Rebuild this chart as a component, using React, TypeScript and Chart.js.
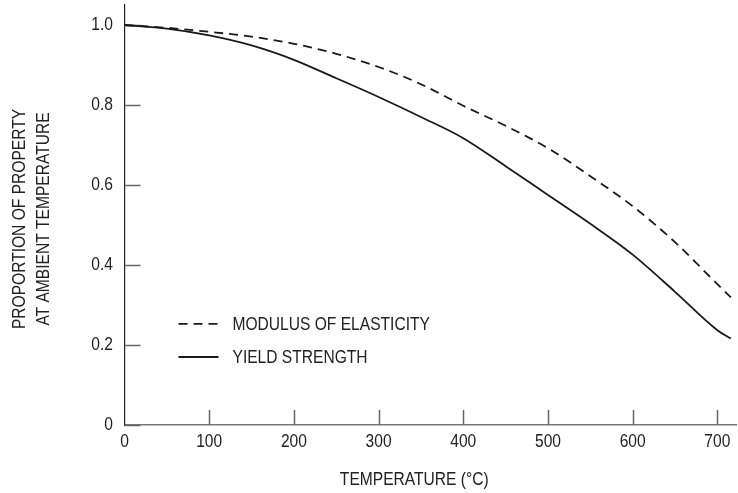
import { useEffect, useRef } from 'react';
import { Chart, registerables } from 'chart.js';

Chart.register(...registerables);

const temperatures = [0, 50, 100, 150, 200, 250, 300, 350, 400, 450, 500, 550, 600, 650, 700, 716];
const modulus = [1.0, 0.993, 0.983, 0.971, 0.953, 0.928, 0.895, 0.852, 0.798, 0.748, 0.692, 0.622, 0.547, 0.457, 0.352, 0.319];
const yieldStrength = [1.0, 0.991, 0.974, 0.949, 0.913, 0.867, 0.82, 0.77, 0.717, 0.647, 0.575, 0.503, 0.426, 0.333, 0.237, 0.216];
const xTicks = [0, 100, 200, 300, 400, 500, 600, 700];
const yTicks = [0, 0.2, 0.4, 0.6, 0.8, 1.0];
const seriesNames = ['MODULUS OF ELASTICITY', 'YIELD STRENGTH'];
const xTitle = 'TEMPERATURE (°C)';
const yTitle = ['PROPORTION OF PROPERTY', 'AT AMBIENT TEMPERATURE'];

const FONT = "'Liberation Sans', Arial, Helvetica, sans-serif";
const FONT_SIZE = 19;
const SX = 0.82;
const TEXT = '#222222';
const LINE = '#1a1a1a';

function drawText(
  ctx: CanvasRenderingContext2D,
  text: string,
  x: number,
  y: number,
  align: CanvasTextAlign,
  rotate = 0
) {
  ctx.save();
  ctx.translate(x, y);
  if (rotate) ctx.rotate(rotate);
  ctx.scale(SX, 1);
  ctx.textAlign = align;
  ctx.textBaseline = 'middle';
  ctx.fillText(text, 0, 0);
  ctx.restore();
}

export default function App() {
  const ref = useRef<HTMLCanvasElement | null>(null);

  useEffect(() => {
    if (!ref.current) return;

    const tickPlugin = {
      id: 'innerTicks',
      beforeDatasetsDraw(chart: any) {
        const { ctx, chartArea, scales } = chart;
        ctx.save();
        ctx.strokeStyle = '#666666';
        ctx.lineWidth = 1.5;
        yTicks.forEach((v) => {
          const py = Math.round(scales.y.getPixelForValue(v)) + 0.5;
          ctx.beginPath();
          ctx.moveTo(chartArea.left, py);
          ctx.lineTo(chartArea.left + 16, py);
          ctx.stroke();
        });
        xTicks.forEach((v) => {
          if (v === 0) return;
          const px = Math.round(scales.x.getPixelForValue(v)) + 0.5;
          ctx.beginPath();
          ctx.moveTo(px, chartArea.bottom);
          ctx.lineTo(px, chartArea.bottom - 15);
          ctx.stroke();
        });
        ctx.restore();
      },
    };

    const textPlugin = {
      id: 'condensedText',
      afterDraw(chart: any) {
        const { ctx, chartArea, scales } = chart;
        ctx.save();
        ctx.fillStyle = TEXT;
        ctx.font = `${FONT_SIZE}px ${FONT}`;
        yTicks.forEach((v) => {
          const py = scales.y.getPixelForValue(v);
          drawText(ctx, v === 0 ? '0' : v.toFixed(1), chartArea.left - 11.5, py, 'right');
        });
        xTicks.forEach((v) => {
          const px = scales.x.getPixelForValue(v);
          drawText(ctx, String(v), px, chartArea.bottom + 16.5, 'center');
        });
        const xMid = (scales.x.getPixelForValue(xTicks[0]) + chartArea.right) / 2 - 16;
        drawText(ctx, xTitle, xMid, chartArea.bottom + 55, 'center');
        const yMid = (chartArea.top + chartArea.bottom) / 2 + 4;
        drawText(ctx, yTitle[0], 19.5, yMid, 'center', -Math.PI / 2);
        drawText(ctx, yTitle[1], 44, yMid, 'center', -Math.PI / 2);

        const x0 = chartArea.left + 54;
        const x1 = chartArea.left + 94;
        const rows = [scales.y.getPixelForValue(0.253), scales.y.getPixelForValue(0.17)];
        ctx.strokeStyle = LINE;
        ctx.lineWidth = 1.8;
        rows.forEach((y, i) => {
          ctx.setLineDash(i === 0 ? [9, 6] : []);
          ctx.beginPath();
          ctx.moveTo(x0, y);
          ctx.lineTo(x1, y);
          ctx.stroke();
        });
        ctx.setLineDash([]);
        rows.forEach((y, i) => {
          drawText(ctx, seriesNames[i], x1 + 14, y + 1, 'left');
        });
        ctx.restore();
      },
    };

    const chart = new Chart(ref.current, {
      type: 'line',
      data: {
        datasets: [
          {
            label: seriesNames[0],
            data: temperatures.map((t, i) => ({ x: t, y: modulus[i] })),
            borderColor: LINE,
            borderWidth: 1.8,
            borderDash: [9, 6],
            pointRadius: 0,
            fill: false,
            cubicInterpolationMode: 'monotone',
          },
          {
            label: seriesNames[1],
            data: temperatures.map((t, i) => ({ x: t, y: yieldStrength[i] })),
            borderColor: LINE,
            borderWidth: 1.8,
            pointRadius: 0,
            fill: false,
            cubicInterpolationMode: 'monotone',
          },
        ],
      },
      options: {
        animation: false,
        responsive: true,
        maintainAspectRatio: false,
        layout: { padding: { left: 0, right: 2, top: 5, bottom: 0 } },
        plugins: { legend: { display: false }, tooltip: { enabled: false } },
        scales: {
          x: {
            type: 'linear',
            min: 0,
            max: 722,
            afterBuildTicks: (s: any) => {
              s.ticks = xTicks.map((v) => ({ value: v }));
            },
            afterFit: (s: any) => {
              s.height = 68;
              s.paddingLeft = 0;
              s.paddingRight = 0;
              s.paddingTop = 0;
              s.paddingBottom = 0;
            },
            ticks: { display: false },
            grid: { display: false, drawTicks: false },
            border: { display: true, color: '#777777', width: 1.5 },
            title: { display: false },
          },
          y: {
            type: 'linear',
            min: 0,
            max: 1.05,
            afterBuildTicks: (s: any) => {
              s.ticks = yTicks.map((v) => ({ value: v }));
            },
            afterFit: (s: any) => {
              s.width = 124.5;
              s.paddingLeft = 0;
              s.paddingRight = 0;
              s.paddingTop = 0;
              s.paddingBottom = 0;
            },
            ticks: { display: false },
            grid: { display: false, drawTicks: false },
            border: { display: true, color: '#222222', width: 1.2 },
            title: { display: false },
          },
        },
      },
      plugins: [tickPlugin, textPlugin],
    } as any);

    return () => chart.destroy();
  }, []);

  return (
    <div style={{ position: 'absolute', left: 0, top: 0, width: 738, height: 493, background: '#fff' }}>
      <canvas ref={ref} />
    </div>
  );
}
